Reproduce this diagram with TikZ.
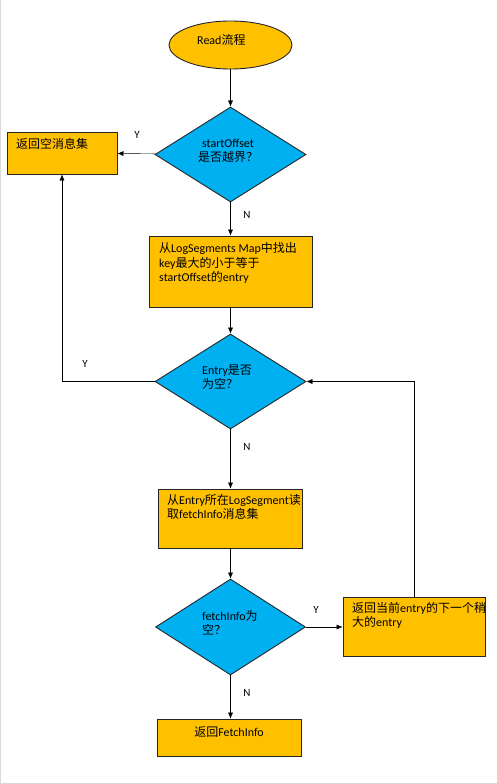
\documentclass[tikz,border=0pt]{standalone}
\usepackage{fontspec}
\setmainfont{Carlito}
\newfontfamily\zh{Noto Sans CJK SC}
\usetikzlibrary{arrows.meta,positioning,shapes.geometric}
\definecolor{boxorange}{HTML}{FFC000}
\definecolor{testblue}{HTML}{00B0F0}
\tikzset{
  proc/.style={rectangle,draw=black!85,fill=boxorange,line width=0.9pt,inner sep=0pt},
  test/.style={diamond,draw=black!85,fill=testblue,line width=0.9pt,inner sep=0pt,
    minimum width=151pt,minimum height=95pt},
  txt/.style={inner sep=0pt,align=left,anchor=base west},
  yn/.style={inner sep=0pt,font=\fontsize{11}{13}\selectfont}
}

\begin{document}
\begin{tikzpicture}[x=1pt,y=-1pt,>={Latex[length=6pt,width=5pt]},
    every node/.style={font=\fontsize{12}{14.5}\selectfont}]
    \useasboundingbox (0,0) rectangle (497,784);
    \draw[black!15] (0.5,0) -- (0.5,784) (0,783.5) -- (497,783.5);
    % shapes
    \node[ellipse,draw=black!85,fill=boxorange,line width=0.9pt,minimum width=123pt,
      minimum height=48pt] (start) at (230.5,45) {};
    \node[test] (d1) at (230.5,154.5) {};
    \node[proc,minimum width=110pt,minimum height=42pt] (b1) at (62,153) {};
    \node[proc,minimum width=163pt,minimum height=71pt] (b2) at (230.5,271.5) {};
    \node[test] (d2) at (230.5,381.5) {};
    \node[proc,minimum width=144pt,minimum height=59pt] (b3) at (230.5,518.5) {};
    \node[test,minimum width=150pt,minimum height=96pt] (d3) at (230.5,627) {};
    \node[proc,minimum width=142pt,minimum height=59pt] (b4) at (414,626.5) {};
    \node[proc,minimum width=144pt,minimum height=37pt] (b5) at (229.5,737.5) {};
    % texts (base = last line)
    \node[txt] (tstart) at (197,44.5) {Read{\zh 流程}};
    \node[inner sep=0pt,align=center,anchor=base] (td1) at (228,161.5)
      {startOffset\\{\zh 是否越界？}};
    \node[txt] (tb1) at (16,148.5) {\zh 返回空消息集};
    \node[txt] (tb2) at (159,281.5)
      {{\zh 从}LogSegments Map{\zh 中找出}\\key{\zh 最大的小于等于}\\startOffset{\zh 的}entry};
    \node[txt] (td2) at (202,388.5) {Entry{\zh 是否}\\{\zh 为空？}};
    \node[txt] (tb3) at (167,518.5)
      {{\zh 从}Entry{\zh 所在}LogSegment{\zh 读}\\{\zh 取}fetchInfo{\zh 消息集}};
    \node[txt] (td3) at (202,634.5) {fetchInfo{\zh 为}\\{\zh 空？}};
    \node[txt] (tb4) at (352,626.5)
      {{\zh 返回当前}entry{\zh 的下一个稍}\\{\zh 大的}entry};
    \node[inner sep=0pt,anchor=base] (tb5) at (229,736.5) {{\zh 返回}FetchInfo};
    % connectors
    \draw[->] (start) -- (d1);
    \draw[->] (d1) -- (b1);
    \draw[->] (d1) -- (b2);
    \draw[->] (b2) -- (d2);
    \draw[->] (d2.west) -| (b1.south);
    \draw[->] (d2) -- (b3);
    \draw[->] (b3) -- (d3);
    \draw[->] (d3.east) -- (d3.east -| b4.west);
    \draw[->] (b4.north) |- (d2.east);
    \draw[->] (d3) -- (d3.south |- b5.north);
    % labels
    \node[yn] (y1) at (137,135) {Y};
    \node[yn] (n1) at (247,215) {N};
    \node[yn] (y2) at (85,364) {Y};
    \node[yn] (n2) at (247,447) {N};
    \node[yn] (y3) at (316,610) {Y};
    \node[yn] (n3) at (247,693) {N};
  \end{tikzpicture}
\end{document}
